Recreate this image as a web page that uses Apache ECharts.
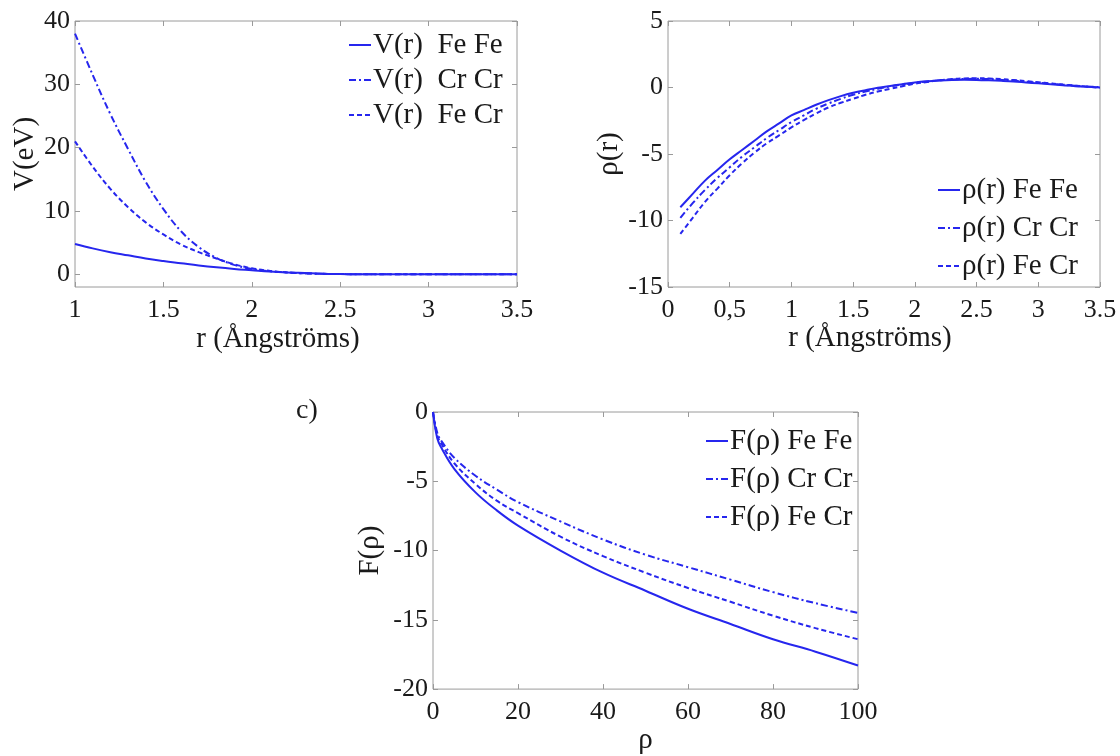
<!DOCTYPE html>
<html>
<head>
<meta charset="utf-8">
<script src="https://cdn.jsdelivr.net/npm/echarts@6/dist/echarts.min.js"></script>
<style>
html,body{margin:0;padding:0;background:#fff;}
#c{width:1120px;height:756px;}
</style>
</head>
<body>
<div id="c"></div>
<script>
// ---------- data ----------
// Panel a: pair potential V(r)
const rV = [1.0,1.1,1.2,1.3,1.4,1.5,1.6,1.7,1.8,1.9,2.0,2.1,2.2,2.3,2.4,2.5,2.6,2.7,2.8,2.9,3.0,3.1,3.2,3.3,3.4,3.5];
const vFeFe = [4.8,4.1,3.5,3.0,2.5,2.1,1.75,1.4,1.1,0.85,0.65,0.45,0.3,0.2,0.1,0.05,0.02,0.01,0,0,0,0,0,0,0,0];
const vCrCr = [38,31.5,25.3,19.8,14.6,10.3,6.8,4.3,2.6,1.5,0.85,0.5,0.3,0.15,0.08,0.04,0.02,0.01,0,0,0,0,0,0,0,0];
const vFeCr = [21,17,13.5,10.6,8.2,6.3,4.7,3.5,2.5,1.6,0.95,0.55,0.3,0.15,0.08,0.04,0.02,0.01,0,0,0,0,0,0,0,0];
const vYTicks = [0,10,20,30,40];
const vXLabels = ['1','1.5','2','2.5','3','3.5'];

// Panel b: density rho(r)
const rRho = [0.1,0.2,0.3,0.4,0.5,0.6,0.7,0.8,0.9,1.0,1.1,1.2,1.3,1.4,1.5,1.6,1.7,1.8,1.9,2.0,2.1,2.2,2.3,2.4,2.5,2.6,2.7,2.8,2.9,3.0,3.1,3.2,3.3,3.4,3.5];
const rhoFeFe = [-9.0,-8.0,-7.0,-6.2,-5.4,-4.7,-4.0,-3.3,-2.7,-2.1,-1.7,-1.3,-0.95,-0.65,-0.4,-0.2,-0.02,0.12,0.25,0.38,0.47,0.53,0.57,0.58,0.57,0.54,0.5,0.45,0.38,0.31,0.24,0.17,0.1,0.05,0.0];
const rhoCrCr = [-9.8,-8.7,-7.7,-6.8,-6.0,-5.2,-4.5,-3.8,-3.2,-2.6,-2.1,-1.6,-1.2,-0.85,-0.55,-0.3,-0.1,0.08,0.22,0.35,0.46,0.55,0.6,0.64,0.65,0.63,0.58,0.52,0.44,0.36,0.28,0.2,0.13,0.07,0.03];
const rhoFeCr = [-11.0,-9.8,-8.6,-7.6,-6.6,-5.7,-4.9,-4.2,-3.6,-3.0,-2.45,-1.95,-1.5,-1.15,-0.85,-0.55,-0.3,-0.1,0.1,0.28,0.42,0.55,0.63,0.68,0.7,0.68,0.63,0.56,0.48,0.4,0.31,0.22,0.14,0.06,-0.02];
const rhoXLabels = ['0','0,5','1','1.5','2','2.5','3','3.5'];

// Panel c: embedding F(rho)
const pF = [0,1,2,5,10,15,20,30,40,50,60,70,80,90,100];
const fFeFe = [0,-1.9,-2.6,-4.1,-5.8,-7.1,-8.2,-10.0,-11.6,-12.9,-14.2,-15.3,-16.4,-17.3,-18.3];
const fCrCr = [0,-1.5,-2.1,-3.3,-4.6,-5.6,-6.5,-7.9,-9.2,-10.3,-11.2,-12.1,-13.0,-13.8,-14.5];
const fFeCr = [0,-1.7,-2.3,-3.7,-5.2,-6.4,-7.3,-9.0,-10.4,-11.6,-12.7,-13.7,-14.7,-15.6,-16.4];

const namesV = ['V(r)  Fe Fe','V(r)  Cr Cr','V(r)  Fe Cr'];
const namesRho = ['ρ(r) Fe Fe','ρ(r) Cr Cr','ρ(r) Fe Cr'];
const namesF = ['F(ρ) Fe Fe','F(ρ) Cr Cr','F(ρ) Fe Cr'];

// ---------- style ----------
const FONT = 'Liberation Serif';
const BLUE = '#2626ee';
const TXT = '#1a1a1a';
const BOX = '#9a9a9a';
const TICK_FS = 26, NAME_FS = 29, LEG_FS = 29;
const dashes = ['solid',[7,3,2,3],[5,3]];

function zip(xs, ys){ return xs.map((x,i)=>[x,ys[i]]); }

const grids = [
  {left:75, top:21, width:442, height:266},
  {left:668, top:21, width:432, height:266},
  {left:433, top:412, width:425, height:280}
];

const tickStyle = {show:true, inside:true, length:5, lineStyle:{color:BOX}};
function tickAxis(extra){
  return Object.assign({
    axisLine:{show:false, onZero:false},
    axisTick:tickStyle,
    splitLine:{show:false},
    axisLabel:{color:TXT, fontFamily:FONT, fontSize:TICK_FS}
  }, extra);
}
function nameStyle(shiftLeft){
  return {color:TXT, fontFamily:FONT, fontSize:NAME_FS, padding:[0, 2*shiftLeft, 0, 0]};
}

const xAxes = [], yAxes = [];
// panel a
xAxes.push(tickAxis({gridIndex:0, type:'value', min:1, max:3.5, interval:0.5, position:'bottom',
  name:'r (Ångströms)', nameLocation:'middle', nameGap:38, nameTextStyle:nameStyle(18),
  axisLabel:{color:TXT, fontFamily:FONT, fontSize:TICK_FS, margin:10,
    formatter:(v)=>{const i=Math.round((v-1)/0.5); return vXLabels[i]===undefined?'':vXLabels[i];}}}));
xAxes.push(tickAxis({gridIndex:0, type:'value', min:1, max:3.5, interval:0.5, position:'top', axisLabel:{show:false}}));
yAxes.push(tickAxis({gridIndex:0, type:'value', min:-2, max:40, position:'left',
  name:'V(eV)', nameLocation:'middle', nameGap:34, nameTextStyle:nameStyle(0),
  axisLabel:{color:TXT, fontFamily:FONT, fontSize:TICK_FS, margin:5, customValues:vYTicks},
  axisTick:Object.assign({customValues:vYTicks}, tickStyle)}));
yAxes.push(tickAxis({gridIndex:0, type:'value', min:-2, max:40, position:'right',
  axisLabel:{show:false, customValues:vYTicks},
  axisTick:Object.assign({customValues:vYTicks}, tickStyle)}));
// panel b
xAxes.push(tickAxis({gridIndex:1, type:'value', min:0, max:3.5, interval:0.5, position:'bottom',
  name:'r (Ångströms)', nameLocation:'middle', nameGap:37, nameTextStyle:nameStyle(14),
  axisLabel:{color:TXT, fontFamily:FONT, fontSize:TICK_FS, margin:10,
    formatter:(v)=>{const i=Math.round(v/0.5); return rhoXLabels[i]===undefined?'':rhoXLabels[i];}}}));
xAxes.push(tickAxis({gridIndex:1, type:'value', min:0, max:3.5, interval:0.5, position:'top', axisLabel:{show:false}}));
yAxes.push(tickAxis({gridIndex:1, type:'value', min:-15, max:5, interval:5, position:'left',
  name:'ρ(r)', nameLocation:'middle', nameGap:44, nameTextStyle:nameStyle(0),
  axisLabel:{color:TXT, fontFamily:FONT, fontSize:TICK_FS, margin:5}}));
yAxes.push(tickAxis({gridIndex:1, type:'value', min:-15, max:5, interval:5, position:'right', axisLabel:{show:false}}));
// panel c
xAxes.push(tickAxis({gridIndex:2, type:'value', min:0, max:100, interval:20, position:'bottom',
  name:'ρ', nameLocation:'middle', nameGap:36, nameTextStyle:nameStyle(0),
  axisLabel:{color:TXT, fontFamily:FONT, fontSize:TICK_FS, margin:10}}));
xAxes.push(tickAxis({gridIndex:2, type:'value', min:0, max:100, interval:20, position:'top', axisLabel:{show:false}}));
yAxes.push(tickAxis({gridIndex:2, type:'value', min:-20, max:0, interval:5, position:'left',
  name:'F(ρ)', nameLocation:'middle', nameGap:48, nameTextStyle:nameStyle(0),
  axisLabel:{color:TXT, fontFamily:FONT, fontSize:TICK_FS, margin:5}}));
yAxes.push(tickAxis({gridIndex:2, type:'value', min:-20, max:0, interval:5, position:'right', axisLabel:{show:false}}));

function mkSeries(name, xs, ys, k, xi, yi){
  return {
    name, type:'line', xAxisIndex:xi, yAxisIndex:yi,
    data: zip(xs, ys), symbol:'none', showSymbol:false,
    smooth:0.4,
    lineStyle:{color:BLUE, width:2, type:dashes[k]},
    itemStyle:{color:BLUE},
    silent:true, animation:false
  };
}

const series = [
  mkSeries(namesV[0], rV, vFeFe, 0, 0, 0),
  mkSeries(namesV[1], rV, vCrCr, 1, 0, 0),
  mkSeries(namesV[2], rV, vFeCr, 2, 0, 0),
  mkSeries(namesRho[0], rRho, rhoFeFe, 0, 2, 2),
  mkSeries(namesRho[1], rRho, rhoCrCr, 1, 2, 2),
  mkSeries(namesRho[2], rRho, rhoFeCr, 2, 2, 2),
  mkSeries(namesF[0], pF, fFeFe, 0, 4, 4),
  mkSeries(namesF[1], pF, fCrCr, 1, 4, 4),
  mkSeries(namesF[2], pF, fFeCr, 2, 4, 4)
];

function mkLegend(names, left, top, gap){
  return {
    data: names, orient:'vertical', left, top,
    itemWidth:22, itemHeight:14, itemGap:gap,
    itemStyle:{opacity:0},
    textStyle:{color:TXT, fontFamily:FONT, fontSize:LEG_FS, lineHeight:30, padding:[0,0,0,-3]},
    selectedMode:false, backgroundColor:'transparent', borderWidth:0
  };
}

const option = {
  backgroundColor:'#fff',
  animation:false,
  grid: grids.map(g=>Object.assign({show:true, borderColor:BOX, borderWidth:1, backgroundColor:'transparent'}, g)),
  xAxis: xAxes,
  yAxis: yAxes,
  legend: [
    mkLegend(namesV, 343, 25, 5),
    mkLegend(namesRho, 932, 170, 8),
    mkLegend(namesF, 700, 421, 8)
  ],
  graphic: [
    {type:'text', left:296, top:397, style:{text:'c)', fill:TXT, font:'28px "Liberation Serif"'}}
  ],
  series
};

const chart = echarts.init(document.getElementById('c'), null, {renderer:'canvas'});
chart.setOption(option);
</script>
</body>
</html>
